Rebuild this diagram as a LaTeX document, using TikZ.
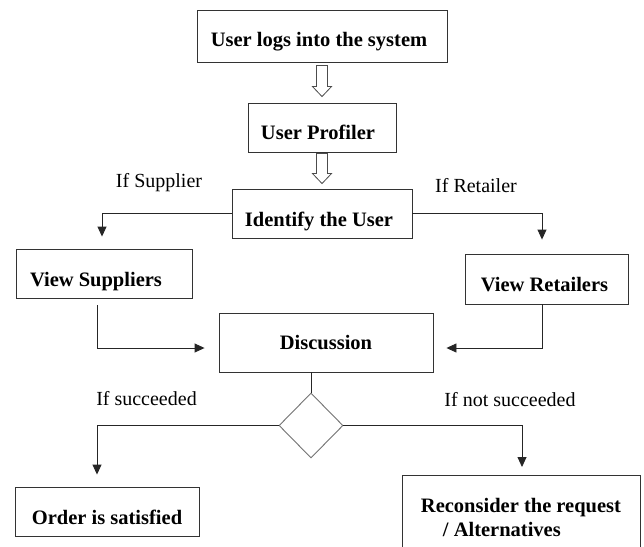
\documentclass[tikz,border=0pt]{standalone}
\usepackage{fontspec}
\setmainfont{Liberation Serif}
\usetikzlibrary{shapes.geometric,arrows.meta,calc}
\newcommand\hollowarr[2]{\draw[hollow] ($(#1)+(-5.5,0)$) -- ($(#2)+(-5.5,-10)$) -- ($(#2)+(-9.5,-10)$) -- (#2) -- ($(#2)+(9.5,-10)$) -- ($(#2)+(5.5,-10)$) -- ($(#1)+(5.5,0)$) -- cycle;}
\begin{document}
\begin{tikzpicture}[x=1pt,y=-1pt,
  box/.style={draw=black!80, line width=0.9pt, rectangle, inner sep=0pt, font=\fontsize{20.5}{24}\selectfont\bfseries},
  sbox/.style={box, text depth=0pt},
  lbl/.style={font=\fontsize{20}{24}\selectfont, inner sep=0pt, text height=13.2pt, text depth=0pt},
  conn/.style={draw=black!85, line width=0.9pt},
  arr/.style={conn, -{Triangle[length=10pt,width=9pt]}},
  hollow/.style={draw=black!70, line width=0.8pt, fill=white},
  dec/.style={diamond, draw=black!55, line width=0.9pt, minimum width=64pt, minimum height=65pt, inner sep=0pt}
]
\useasboundingbox (0,0) rectangle (644,546);
\fill[white] (0,0) rectangle (644,546);

\node[sbox, minimum width=250pt, minimum height=52pt, text height=21.6pt] (login) at (322,36) {User logs into the system\kern6pt};
\node[sbox, minimum width=148pt, minimum height=49pt, text height=24.6pt] (prof) at (322,127.5) {User Profiler\kern8pt};
\node[sbox, minimum width=180pt, minimum height=49pt, text height=26.6pt] (ident) at (322,213.5) {Identify the User\kern6pt};
\node[sbox, minimum width=176pt, minimum height=49pt, text height=25.6pt] (vsup) at (104,273.5) {View Suppliers\kern16pt};
\node[sbox, minimum width=163pt, minimum height=50pt, text height=25.6pt] (vret) at (546.5,279) {View Retailers\kern4pt};
\node[sbox, minimum width=214pt, minimum height=59pt, text height=13.6pt] (disc) at (326,342.5) {Discussion};
\node[dec] (dec) at (311,425.5) {};
\node[sbox, minimum width=184pt, minimum height=49pt, text height=25.6pt] (order) at (107,511.5) {Order is satisfied};
\node[box, minimum width=238pt, minimum height=84pt, align=left, anchor=north] (recon) at (521,475) {Reconsider the request\\\hspace*{22pt}/ Alternatives};

\node[lbl] (lsup) at (159,180.5) {If Supplier};
\node[lbl] (lret) at (476,185.5) {If Retailer};
\node[lbl] (lsuc) at (146.5,399) {If succeeded};
\node[lbl] (lnot) at (510,399.5) {If not succeeded};

\coordinate (h1a) at ($(login.south)+(0,3)$);
\coordinate (h1b) at ($(prof.north)+(0,-6)$);
\coordinate (h2a) at ($(prof.south)+(0,1)$);
\coordinate (h2b) at ($(ident.north)+(0,-5)$);
\hollowarr{h1a}{h1b}
\hollowarr{h2a}{h2b}

\draw[arr] (ident.west) -| ($(vsup.north)+(-2,-12)$);
\draw[arr] (ident.east) -| ($(vret.north)+(-4.5,-14)$);
\draw[arr] ($(vsup.south)+(-7,7)$) |- ($(disc.west)+(-14,5.5)$);
\draw[arr] ($(vret.south)+(-4.5,0)$) |- ($(disc.east)+(13,5.5)$);
\draw[conn] (dec.north |- disc.south) -- (dec.north);
\draw[arr] (dec.west) -| ($(order.north)+(-10,-12)$);
\draw[arr] (dec.east) -| ($(recon.north)+(1,-8)$);
\end{tikzpicture}
\end{document}
